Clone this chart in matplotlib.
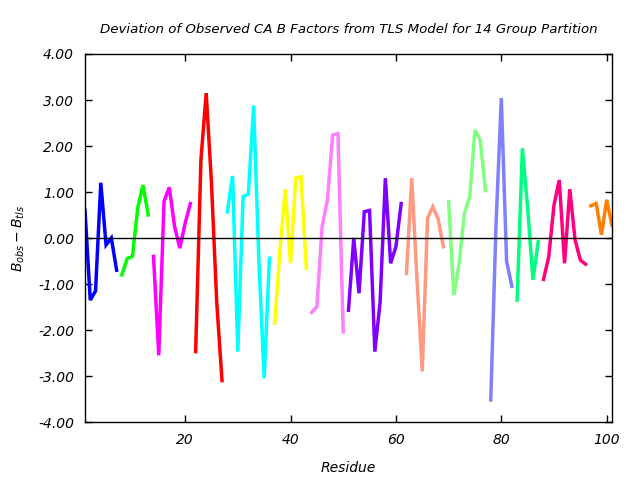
"""Deviation of observed CA B factors from a 14-group TLS model."""

import matplotlib
matplotlib.use("Agg")
import matplotlib.pyplot as plt
from matplotlib.ticker import FixedLocator

# residue ranges of the 14 TLS groups (first, last)
group_ranges = [(1, 7), (8, 13), (14, 21), (22, 27), (28, 36), (37, 43), (44, 50),
                (51, 61), (62, 69), (70, 77), (78, 82), (83, 87), (88, 96), (97, 101)]

group_colors = ["#0000ff", "#00ff00", "#ff00ff", "#ff0000", "#00ffff", "#ffff00", "#ff80ff",
                "#8000ff", "#ff9980", "#80ff80", "#8080ff", "#00ff80", "#ff0080", "#ff8000"]

# B_obs - B_tls for every residue, one list per group
deviation = [
    [0.60, -1.35, -1.15, 1.20, -0.15, 0.00, -0.70],
    [-0.80, -0.45, -0.40, 0.65, 1.15, 0.50],
    [-0.40, -2.55, 0.80, 1.10, 0.25, -0.22, 0.32, 0.75],
    [-2.47, 1.70, 3.15, 1.20, -1.40, -3.10],
    [0.57, 1.35, -2.47, 0.90, 0.95, 2.88, -0.50, -3.05, -0.44],
    [-1.85, -0.26, 1.06, -0.55, 1.30, 1.33, -0.66],
    [-1.62, -1.49, 0.25, 0.83, 2.24, 2.27, -2.04],
    [-1.57, 0.00, -1.20, 0.57, 0.60, -2.47, -1.40, 1.30, -0.55, -0.19, 0.75],
    [-0.77, 1.30, -0.90, -2.90, 0.43, 0.68, 0.42, -0.19],
    [0.79, -1.24, -0.55, 0.54, 0.90, 2.35, 2.13, 1.03],
    [-3.52, 0.30, 3.04, -0.50, -1.05],
    [-1.35, 1.95, 0.65, -0.91, -0.08],
    [-0.90, -0.41, 0.72, 1.26, -0.55, 1.06, -0.04, -0.48, -0.57],
    [0.70, 0.75, 0.07, 0.83, 0.28],
]

plt.rcParams["font.family"] = "DejaVu Sans"
plt.rcParams["font.style"] = "italic"
plt.rcParams["mathtext.fontset"] = "dejavusans"

fig = plt.figure(figsize=(6.4, 4.8), dpi=100)
ax = fig.add_axes([0.1328, 0.1208, 0.8234, 0.7667])

for (first, last), color, values in zip(group_ranges, group_colors, deviation):
    residues = list(range(first, last + 1))
    ax.plot(residues, values, color=color, lw=2.5, solid_joinstyle="miter")

ax.axhline(0, color="black", lw=1)

ax.set_xlim(1, 101)
ax.set_ylim(-4, 4)
ax.xaxis.set_major_locator(FixedLocator([20, 40, 60, 80, 100]))
ax.yaxis.set_major_locator(FixedLocator(range(-4, 5)))
ax.set_yticklabels([f"{v:.2f}" for v in range(-4, 5)])
ax.tick_params(direction="in", length=5, width=1, top=True, right=True,
               labelsize=10, pad=8)
for spine in ax.spines.values():
    spine.set_linewidth(1)

ax.set_xlabel("Residue", fontsize=10, labelpad=10)
ax.set_ylabel(r"$B_{obs} - B_{tls}$", fontsize=10, labelpad=8)
ax.set_title("Deviation of Observed CA B Factors from TLS Model for 14 Group Partition",
             fontsize=9.6, pad=15)

fig.savefig("out.png", dpi=100)
